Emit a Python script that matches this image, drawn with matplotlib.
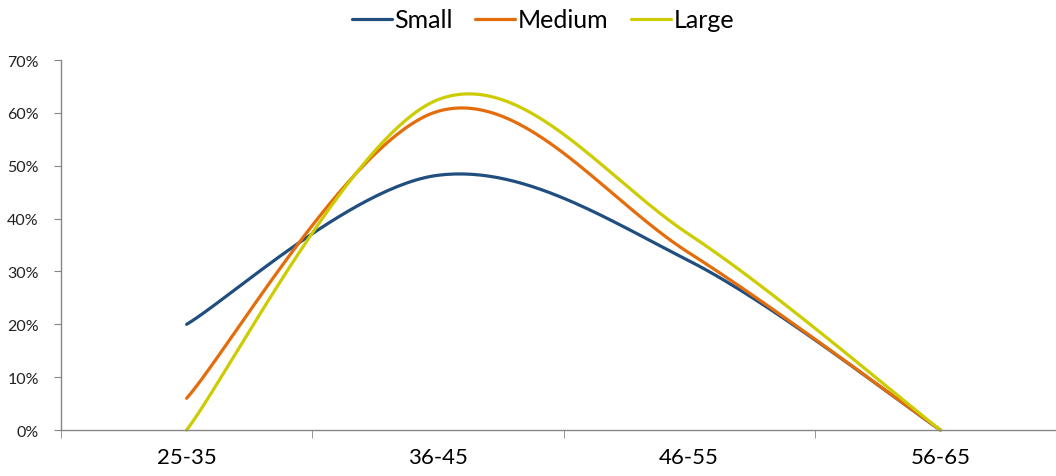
import numpy as np
import matplotlib
matplotlib.use("Agg")
import matplotlib.pyplot as plt
from matplotlib.ticker import PercentFormatter

plt.rcParams['font.family'] = ['Lato', 'DejaVu Sans']

age_groups = ['25-35', '36-45', '46-55', '56-65']
small = [0.20, 0.482, 0.32, 0.0]
medium = [0.06, 0.603, 0.335, 0.0]
large = [0.0, 0.625, 0.37, 0.0]

series = [('Small', small, '#1F4E7F'),
          ('Medium', medium, '#E46C0A'),
          ('Large', large, '#CCCC00')]


def smooth(ys, n=60):
    # cubic bezier through the points, spreadsheet-style smoothed line
    pts = np.column_stack([np.arange(len(ys), dtype=float), np.asarray(ys, dtype=float)])
    out = []
    t = np.linspace(0, 1, n)[:, None]
    for i in range(len(pts) - 1):
        p0 = pts[i - 1] if i > 0 else pts[i]
        p1, p2 = pts[i], pts[i + 1]
        p3 = pts[i + 2] if i + 2 < len(pts) else pts[i + 1]
        c1 = p1 + (p2 - p0) / 6
        c2 = p2 - (p3 - p1) / 6
        seg = ((1 - t) ** 3) * p1 + 3 * ((1 - t) ** 2) * t * c1 + 3 * (1 - t) * t ** 2 * c2 + t ** 3 * p2
        out.append(seg if i == 0 else seg[1:])
    curve = np.vstack(out)
    return curve[:, 0], curve[:, 1]


fig = plt.figure(figsize=(10.56, 4.77), dpi=100)
ax = fig.add_axes([0.0578, 0.0964, 0.9422, 0.7756])

for name, vals, col in series:
    xs, ys = smooth(vals)
    ax.plot(xs, ys, color=col, lw=2.3, label=name, clip_on=False, solid_capstyle='round')

ax.set_xlim(-0.5, 3.46)
ax.set_ylim(0, 0.70)
ax.set_yticks(np.arange(0, 0.71, 0.10))
ax.yaxis.set_major_formatter(PercentFormatter(1.0, decimals=0))

ax.set_xticks(range(len(age_groups)))
ax.set_xticklabels(age_groups, fontsize=16)
ax.set_xticks([-0.5, 0.5, 1.5, 2.5], minor=True)
ax.tick_params(axis='x', which='major', length=0, pad=12, labelcolor='#000000')
ax.tick_params(axis='x', which='minor', length=6, color='#868686', direction='out')
ax.tick_params(axis='y', length=5, color='#868686', labelsize=11.5, labelcolor='#222222', pad=11)

for side in ['top', 'right']:
    ax.spines[side].set_visible(False)
for side in ['left', 'bottom']:
    ax.spines[side].set_color('#868686')
    ax.spines[side].set_linewidth(1.0)

fig.legend(loc='center', bbox_to_anchor=(0.514, 0.956), ncol=3, frameon=False,
           fontsize=18, handlelength=1.6, handletextpad=0.1, columnspacing=0.9,
           borderpad=0, borderaxespad=0)

fig.savefig('out.png', dpi=100)
